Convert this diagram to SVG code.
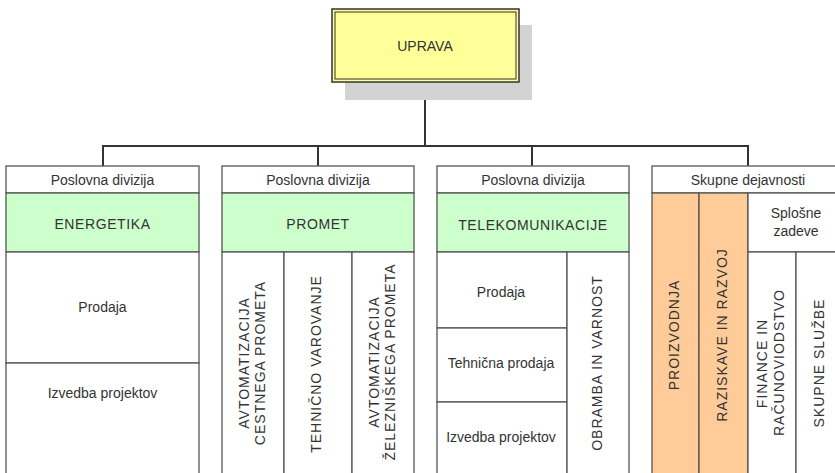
<svg xmlns="http://www.w3.org/2000/svg" width="835" height="473" viewBox="0 0 835 473">
<style>
  .t { font-family: "Liberation Sans", Arial, sans-serif; font-size: 14px; fill: #333; text-anchor: middle; }
  .cap { letter-spacing: 0.6px; }
  .v { letter-spacing: 1px; }
  .box { stroke: #555; stroke-width: 1.3; }
  .w { fill: #fff; }
  .g { fill: #ccffcc; }
  .o { fill: #ffcc99; }
  .conn { fill: none; stroke: #333; stroke-width: 2; }
</style>
<rect width="835" height="473" fill="#fff"/>

<g id="connectors">
  <line class="conn" x1="425" y1="82" x2="425" y2="146"/>
  <polyline class="conn" points="103,166 103,146 748,146 748,166"/>
  <line class="conn" x1="318" y1="146" x2="318" y2="166"/>
  <line class="conn" x1="532" y1="146" x2="532" y2="166"/>
</g>

<g id="uprava">
  <rect x="345" y="25" width="187" height="75" fill="#d3d3d3"/>
  <rect x="332" y="9" width="187" height="73" fill="#ffff99" stroke="#333" stroke-width="1.5"/>
  <rect x="335" y="12" width="181" height="67" fill="none" stroke="#333" stroke-width="1"/>
  <text class="t" x="425" y="51">UPRAVA</text>
</g>

<g id="energetika">
  <rect class="box w" x="6" y="166" width="193" height="27"/>
  <rect class="box g" x="6" y="193" width="193" height="59"/>
  <rect class="box w" x="6" y="252" width="193" height="111"/>
  <rect class="box w" x="6" y="363" width="193" height="120"/>
  <text class="t" x="102.5" y="185">Poslovna divizija</text>
  <text class="t cap" x="102.5" y="228.5">ENERGETIKA</text>
  <text class="t" x="102.5" y="312">Prodaja</text>
  <text class="t" x="102.5" y="398">Izvedba projektov</text>
</g>

<g id="promet">
  <rect class="box w" x="222" y="166" width="192" height="27"/>
  <rect class="box g" x="222" y="193" width="192" height="59"/>
  <rect class="box w" x="222" y="252" width="62" height="231"/>
  <rect class="box w" x="284" y="252" width="68" height="231"/>
  <rect class="box w" x="352" y="252" width="62" height="231"/>
  <text class="t" x="318" y="185">Poslovna divizija</text>
  <text class="t cap" x="318" y="228.5">PROMET</text>
  <text class="t v" transform="translate(249,363) rotate(-90)">AVTOMATIZACIJA</text>
  <text class="t v" transform="translate(265,363) rotate(-90)">CESTNEGA PROMETA</text>
  <text class="t v" transform="translate(321,364) rotate(-90)">TEHNIČNO VAROVANJE</text>
  <text class="t v" transform="translate(379,362) rotate(-90)">AVTOMATIZACIJA</text>
  <text class="t v" transform="translate(395,362) rotate(-90)">ŽELEZNIŠKEGA PROMETA</text>
</g>

<g id="telekomunikacije">
  <rect class="box w" x="437" y="166" width="192" height="27"/>
  <rect class="box g" x="437" y="193" width="192" height="59"/>
  <rect class="box w" x="437" y="252" width="130" height="76"/>
  <rect class="box w" x="437" y="328" width="130" height="74"/>
  <rect class="box w" x="437" y="402" width="130" height="81"/>
  <rect class="box w" x="567" y="252" width="62" height="231"/>
  <text class="t" x="533" y="185">Poslovna divizija</text>
  <text class="t cap" x="533" y="230">TELEKOMUNIKACIJE</text>
  <text class="t" x="501" y="297">Prodaja</text>
  <text class="t" x="501" y="368">Tehnična prodaja</text>
  <text class="t" x="501" y="442">Izvedba projektov</text>
  <text class="t v" transform="translate(602,363) rotate(-90)">OBRAMBA IN VARNOST</text>
</g>

<g id="skupne-dejavnosti">
  <rect class="box w" x="652" y="166" width="192" height="27"/>
  <rect class="box o" x="652" y="193" width="47" height="290"/>
  <rect class="box o" x="699" y="193" width="49" height="290"/>
  <rect class="box w" x="748" y="193" width="96" height="59"/>
  <rect class="box w" x="748" y="252" width="48" height="231"/>
  <rect class="box w" x="796" y="252" width="48" height="231"/>
  <text class="t" x="748" y="185">Skupne dejavnosti</text>
  <text class="t v" transform="translate(679,335) rotate(-90)">PROIZVODNJA</text>
  <text class="t v" transform="translate(727,335) rotate(-90)">RAZISKAVE IN RAZVOJ</text>
  <text class="t" x="796" y="218">Splošne</text>
  <text class="t" x="796" y="236">zadeve</text>
  <text class="t v" transform="translate(767,363.5) rotate(-90)">FINANCE IN</text>
  <text class="t v" transform="translate(784,362.5) rotate(-90)">RAČUNOVIODSTVO</text>
  <text class="t v" transform="translate(824,363) rotate(-90)">SKUPNE SLUŽBE</text>
</g>
</svg>
